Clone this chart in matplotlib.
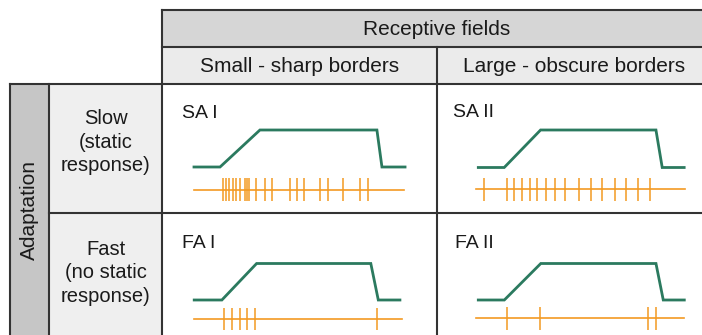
import matplotlib
matplotlib.use("Agg")
import matplotlib.pyplot as plt
from matplotlib.patches import Rectangle

plt.rcParams['font.family'] = ['Liberation Sans', 'DejaVu Sans']

# ---------------- data ----------------
col_header = "Receptive fields"
col_labels = ["Small - sharp borders", "Large - obscure borders"]
row_header = "Adaptation"
row_labels = ["Slow\n(static\nresponse)", "Fast\n(no static\nresponse)"]
panel_names = ["SA I", "SA II", "FA I", "FA II"]

# stimulus (indentation) trace: time (ms) and level (0 = rest, 1 = pressed)
stim_level = [0, 0, 1, 1, 0, 0]
stim_t_sa1 = [0, 124, 314, 871, 895, 1005]
stim_t_sa2 = [11, 135, 309, 861, 891, 996]
stim_t_fa1 = [1, 134, 301, 850, 886, 990]
stim_t_fa2 = [11, 136, 311, 864, 899, 1000]

# spike times (ms)
spikes_sa1 = [136, 152, 168, 186, 202, 219, 241, 252, 263, 295, 338, 370,
              457, 489, 523, 602, 639, 710, 790, 830]
spikes_sa2 = [38, 150, 183, 222, 258, 293, 335, 378, 426, 494, 548, 605,
              665, 717, 777, 834]
spikes_fa1 = [144, 181, 221, 256, 293, 881]
spikes_fa2 = [147, 309, 824, 864]

stim_times = [stim_t_sa1, stim_t_sa2, stim_t_fa1, stim_t_fa2]
spike_times = [spikes_sa1, spikes_sa2, spikes_fa1, spikes_fa2]

# ---------------- layout (pixels) ----------------
W, H = 702, 335
fig = plt.figure(figsize=(W / 100, H / 100), dpi=100)
bg = fig.add_axes([0, 0, 1, 1])
bg.set_xlim(0, W)
bg.set_ylim(H, 0)
bg.axis('off')

LC = '#333333'
LW = 1.5
GREEN = '#2b7a5f'
ORANGE = '#f39a22'
TC = '#1a1a1a'

x_left, x_adapt, x_tab, x_mid, x_right = 10, 49, 162, 437, 702
y_top, y_h1, y_h2, y_row, y_bot = 10, 47, 84, 213, 335

# fills
bg.add_patch(Rectangle((x_tab, y_top), x_right - x_tab, y_h1 - y_top, fc='#d6d6d6', ec='none'))
bg.add_patch(Rectangle((x_tab, y_h1), x_right - x_tab, y_h2 - y_h1, fc='#ebebeb', ec='none'))
bg.add_patch(Rectangle((x_left, y_h2), x_adapt - x_left, y_bot - y_h2, fc='#c6c6c6', ec='none'))
bg.add_patch(Rectangle((x_adapt, y_h2), x_tab - x_adapt, y_bot - y_h2, fc='#efefef', ec='none'))

# grid lines
kw = dict(color=LC, lw=LW, solid_capstyle='projecting')
bg.plot([x_tab, x_right], [y_top, y_top], **kw)
bg.plot([x_tab, x_right], [y_h1, y_h1], **kw)
bg.plot([x_left, x_right], [y_h2, y_h2], **kw)
bg.plot([x_adapt, x_right], [y_row, y_row], **kw)
bg.plot([x_tab, x_tab], [y_top, y_bot], **kw)
bg.plot([x_mid, x_mid], [y_h1, y_bot], **kw)
bg.plot([x_left, x_left], [y_h2, y_bot], **kw)
bg.plot([x_adapt, x_adapt], [y_h2, y_bot], **kw)

# texts
FS = 15
bg.text(437, (y_top + y_h1) / 2 + 1, col_header, ha='center', va='center', fontsize=FS, color=TC)
bg.text(299.5, (y_h1 + y_h2) / 2 + 1, col_labels[0], ha='center', va='center', fontsize=FS, color=TC)
bg.text(574, (y_h1 + y_h2) / 2 + 1, col_labels[1], ha='center', va='center', fontsize=FS, color=TC)
bg.text((x_left + x_adapt) / 2, (y_h2 + y_bot) / 2, row_header, ha='center', va='center',
        rotation=90, fontsize=FS, color=TC)
bg.text((x_adapt + x_tab) / 2, 142, row_labels[0], ha='center', va='center', fontsize=14.5,
        linespacing=1.28, color=TC)
bg.text((x_adapt + x_tab) / 2, 273, row_labels[1], ha='center', va='center', fontsize=14.5,
        linespacing=1.28, color=TC)

label_pos = [(182, 118), (453, 117), (182, 248), (455, 248)]
for name, (lx, ly) in zip(panel_names, label_pos):
    bg.text(lx, ly, name, ha='left', va='baseline', fontsize=14, color=TC)

# panel geometry: (x at t=0, x at t=1000, y rest, y pressed, y spike row)
panel_geom = [
    (194, 404, 167, 130, 189.5),
    (476, 685, 167.5, 130, 189.3),
    (194, 402, 300, 263.5, 319),
    (476, 684.3, 300, 263.5, 318.3),
]

XL = (-60, 1060)
YL = (-1.2, 1.4)
for geom, st, sp in zip(panel_geom, stim_times, spike_times):
    x0, x1, yb, yt, yo = geom
    sx = (x1 - x0) / 1000.0
    s = yb - yt
    left = x0 + XL[0] * sx
    right = x0 + XL[1] * sx
    bottom_px = yb - YL[0] * s
    top_px = yb - YL[1] * s
    ax = fig.add_axes([left / W, 1 - bottom_px / H, (right - left) / W, (bottom_px - top_px) / H])
    ax.set_xlim(*XL)
    ax.set_ylim(*YL)
    ax.axis('off')
    row = -(yo - yb) / s
    ax.plot([0, 1000], [row, row], color=ORANGE, lw=1.2, zorder=1)
    ax.vlines(sp, row - 0.31, row + 0.31, color=ORANGE, lw=1.1, zorder=2)
    ax.plot(st, stim_level, color=GREEN, lw=2.0, solid_joinstyle='miter', zorder=3)

fig.savefig('out.png', dpi=100)
